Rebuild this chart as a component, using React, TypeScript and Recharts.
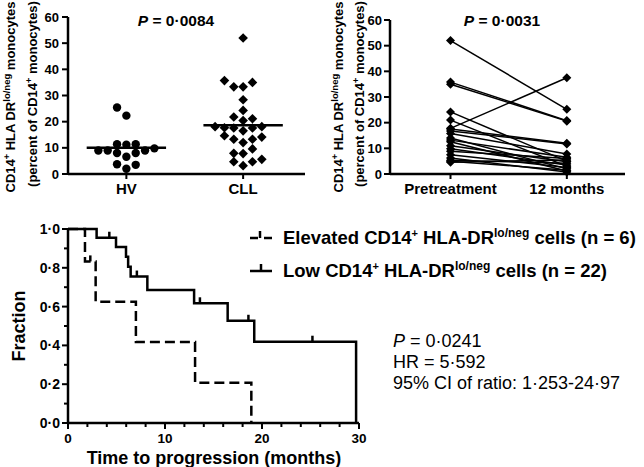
import React from 'react';
import { ScatterChart, Scatter, LineChart, Line, XAxis, YAxis, ReferenceLine } from 'recharts';

const FONT = '"Liberation Sans", Arial, Helvetica, sans-serif';

// Panel A: HV vs CLL, one dot per subject (slot = beeswarm column)
const groups = ['HV', 'CLL'];
const hvValues = [25.4, 22.3, 11.4, 11.2, 11.4, 9.0, 9.0, 9.0, 9.8, 8.0, 8.0, 6.6, 3.7, 3.5, 2.0];
const hvSlots = [-1, 0, -1, 0, 1, -3, -2, 2, 3, -1, 1, 0, -1, 1, 0];
const cllValues = [52.0, 35.7, 33.3, 33.3, 35.0, 28.4, 24.3, 21.8, 20.4, 21.1, 18.1, 17.7, 17.6, 16.5, 17.6, 18.1, 14.6, 13.3, 12.0, 13.3, 14.1, 9.6, 7.9, 7.8, 4.7, 5.6, 4.7, 3.2];
const cllSlots = [0, -2, -1, 0, 1, 0, 0, -1, 0, 1, -3, -2, -1, 0, 1, 2, -2, -1, 0, 1, 2, 1, -1, 0, 1, 2, -1, 0];
const pctTicks = [0, 10, 20, 30, 40, 50, 60];

// Panel B: paired samples
const timepoints = ['Pretreatment', '12 months'];
const pretreatment = [52.0, 35.8, 35.0, 17.8, 24.2, 21.0, 17.5, 16.8, 15.8, 14.0, 13.2, 12.6, 11.0, 9.8, 8.9, 7.5, 6.2, 5.4, 5.0, 4.6];
const month12 = [25.2, 20.8, 20.6, 37.5, 5.0, 3.0, 12.0, 11.7, 7.8, 2.0, 6.5, 1.2, 4.8, 3.5, 6.0, 2.5, 0.8, 4.2, 1.5, 5.5];

// Panel C: Kaplan-Meier (c = censored)
const elevatedTime = [0, 1.75, 2.3, 2.85, 7.0, 13.1, 18.9];
const elevatedFrac = [1, 0.833, 0.833, 0.625, 0.417, 0.208, 0];
const elevatedCensor = [0, 0, 1, 0, 0, 0, 0];
const lowTime = [0, 2.95, 4.26, 4.95, 5.98, 6.2, 6.46, 7.1, 8.18, 13.0, 13.6, 16.46, 18.6, 19.2, 25.2, 29.7];
const lowFrac = [1, 0.955, 0.955, 0.907, 0.857, 0.806, 0.755, 0.755, 0.686, 0.617, 0.617, 0.527, 0.527, 0.419, 0.419, 0];
const lowCensor = [0, 0, 1, 0, 0, 0, 0, 1, 0, 0, 1, 0, 1, 0, 1, 0];
const fracTicks = [0, 0.1, 0.2, 0.3, 0.4, 0.5, 0.6, 0.7, 0.8, 0.9, 1.0];
const monthTicks = [0, 2, 4, 6, 8, 10, 12, 14, 16, 18, 20, 22, 24, 26, 28, 30];

const SLOT = 0.08;
const mean = (a: number[]) => a.reduce((s, v) => s + v, 0) / a.length;
const hvPoints = hvValues.map((y, i) => ({ x: 1 + hvSlots[i] * SLOT, y }));
const cllPoints = cllValues.map((y, i) => ({ x: 2 + cllSlots[i] * SLOT, y }));
const pairRows = [pretreatment, month12].map((vals, t) => {
  const row: Record<string, number> = { x: t + 1 };
  vals.forEach((v, i) => { row[`p${i}`] = v; });
  return row;
});
const elevatedData = elevatedTime.map((t, i) => ({ t, s: elevatedFrac[i], c: elevatedCensor[i] }));
const lowData = lowTime.map((t, i) => ({ t, s: lowFrac[i], c: lowCensor[i] }));

const dotFmt = (v: number) => v.toFixed(1).replace('.', '·');
const axisLine = { stroke: '#000', strokeWidth: 2.5 };
const tickLine = { stroke: '#000', strokeWidth: 2 };
const tickFont = { fill: '#000', fontSize: 13, fontWeight: 700, fontFamily: FONT };
const catFont = { fill: '#000', fontSize: 15, fontWeight: 700, fontFamily: FONT };

const circle = (p: any) => <circle cx={p.cx} cy={p.cy} r={4.2} fill="#000" />;
const diamond = (p: any) => {
  const r = 4.8;
  return <path d={`M${p.cx},${p.cy - r}L${p.cx + r},${p.cy}L${p.cx},${p.cy + r}L${p.cx - r},${p.cy}Z`} fill="#000" />;
};
const pairDot = (p: any) => {
  const r = 4.5;
  return <path key={p.key ?? p.index} d={`M${p.cx},${p.cy - r}L${p.cx + r},${p.cy}L${p.cx},${p.cy + r}L${p.cx - r},${p.cy}Z`} fill="#000" />;
};
const censorDot = (p: any) =>
  p.payload && p.payload.c
    ? <line key={p.index} x1={p.cx} x2={p.cx} y1={p.cy} y2={p.cy - 6} stroke="#000" strokeWidth={2.5} />
    : <g key={p.index} />;

const FracTick = (p: any) => {
  const v = p.payload.value;
  const major = Math.round(v * 10) % 2 === 0;
  return (
    <g>
      <line x1={p.x} x2={p.x - (major ? 6 : 4)} y1={p.y} y2={p.y} stroke="#000" strokeWidth={2} />
      {major && (
        <text x={p.x - 8} y={p.y} dy="0.36em" textAnchor="end" fontSize={14} fontWeight={700} fontFamily={FONT} fill="#000">
          {dotFmt(v)}
        </text>
      )}
    </g>
  );
};
const MonthTick = (p: any) => {
  const v = p.payload.value;
  const major = v % 10 === 0;
  return (
    <g>
      <line x1={p.x} x2={p.x} y1={p.y} y2={p.y + (major ? 6 : 4)} stroke="#000" strokeWidth={2} />
      {major && (
        <text x={p.x} y={p.y + 20} textAnchor="middle" fontSize={13.5} fontWeight={700} fontFamily={FONT} fill="#000">
          {v}
        </text>
      )}
    </g>
  );
};

function YTitle({ x1, x2, cy }: { x1: number; x2: number; cy: number }) {
  return (
    <g fontWeight={700} fontSize={13} fill="#000">
      <text transform={`translate(${x1},${cy + 1}) rotate(-90)`} textAnchor="middle">
        CD14<tspan dy={-5} fontSize={9}>+</tspan><tspan dy={5}> HLA DR</tspan>
        <tspan dy={-5} fontSize={9.5}>lo/neg</tspan><tspan dy={5}> monocytes</tspan>
      </text>
      <text transform={`translate(${x2},${cy - 2}) rotate(-90)`} textAnchor="middle">
        (percent of CD14<tspan dy={-5} fontSize={9}>+</tspan><tspan dy={5}> monocytes)</tspan>
      </text>
    </g>
  );
}

export default function App() {
  return (
    <div style={{ position: 'absolute', left: 0, top: 0, width: 644, height: 467, background: '#fff', fontFamily: FONT, overflow: 'hidden' }}>
      {/* HV vs CLL */}
      <div style={{ position: 'absolute', left: 0, top: 0 }}>
        <ScatterChart width={320} height={200} margin={{ top: 17, right: 15, bottom: 0, left: 0 }}>
          <XAxis type="number" dataKey="x" domain={[0.5, 2.53]} ticks={[1, 2]} tickFormatter={(v: number) => groups[Math.round(v) - 1]}
            axisLine={axisLine} tickLine={tickLine} tickSize={5} tickMargin={4} tick={catFont} height={26} interval={0} />
          <YAxis type="number" dataKey="y" domain={[0, 60]} ticks={pctTicks} width={68} interval={0}
            axisLine={axisLine} tickLine={tickLine} tickSize={6} tickMargin={3} tick={tickFont} />
          <Scatter data={hvPoints} shape={circle} isAnimationActive={false} />
          <Scatter data={cllPoints} shape={diamond} isAnimationActive={false} />
          <ReferenceLine segment={[{ x: 1 - 0.34, y: mean(hvValues) }, { x: 1 + 0.34, y: mean(hvValues) }]} stroke="#000" strokeWidth={2.5} />
          <ReferenceLine segment={[{ x: 2 - 0.34, y: mean(cllValues) }, { x: 2 + 0.34, y: mean(cllValues) }]} stroke="#000" strokeWidth={2.5} />
        </ScatterChart>
      </div>

      {/* Pretreatment vs 12 months */}
      <div style={{ position: 'absolute', left: 320, top: 0 }}>
        <LineChart width={324} height={200} data={pairRows} margin={{ top: 20, right: 19, bottom: 0, left: 0 }}>
          <XAxis type="number" dataKey="x" domain={[0.48, 2.5]} ticks={[1, 2]} tickFormatter={(v: number) => timepoints[Math.round(v) - 1]}
            axisLine={axisLine} tickLine={tickLine} tickSize={5} tickMargin={4} tick={catFont} height={26} interval={0} />
          <YAxis type="number" domain={[0, 60]} ticks={pctTicks} width={70} interval={0}
            axisLine={axisLine} tickLine={tickLine} tickSize={6} tickMargin={2} tick={tickFont} />
          {pretreatment.map((_, i) => (
            <Line key={i} dataKey={`p${i}`} stroke="#000" strokeWidth={1.5} dot={pairDot} activeDot={false} isAnimationActive={false} />
          ))}
        </LineChart>
      </div>

      {/* Kaplan-Meier */}
      <div style={{ position: 'absolute', left: 0, top: 200 }}>
        <LineChart width={380} height={267} margin={{ top: 29, right: 21, bottom: 0, left: 0 }}>
          <XAxis type="number" dataKey="t" domain={[0, 30]} ticks={monthTicks} interval={0} height={44}
            axisLine={axisLine} tickLine={false} tickSize={0} tickMargin={0} tick={<MonthTick />} />
          <YAxis type="number" domain={[0, 1]} ticks={fracTicks} interval={0} width={68}
            axisLine={axisLine} tickLine={false} tickSize={0} tickMargin={0} tick={<FracTick />} />
          <Line data={elevatedData} dataKey="s" type="stepAfter" stroke="#000" strokeWidth={2.5} strokeDasharray="10 5"
            dot={censorDot} activeDot={false} isAnimationActive={false} />
          <Line data={lowData} dataKey="s" type="stepAfter" stroke="#000" strokeWidth={2.5}
            dot={censorDot} activeDot={false} isAnimationActive={false} />
        </LineChart>
      </div>

      {/* titles, axis titles, legend, stats */}
      <svg width={644} height={467} style={{ position: 'absolute', left: 0, top: 0, pointerEvents: 'none' }} fontFamily={FONT}>
        <text x={176} y={26} textAnchor="middle" fontSize={15.5} fontWeight={700}>
          <tspan fontStyle="italic">P</tspan> = 0·0084
        </text>
        <text x={502} y={26} textAnchor="middle" fontSize={15.5} fontWeight={700}>
          <tspan fontStyle="italic">P</tspan> = 0·0031
        </text>
        <YTitle x1={15} x2={37} cy={96} />
        <YTitle x1={343} x2={364} cy={96} />

        <text transform="translate(25,326) rotate(-90)" textAnchor="middle" fontSize={18} fontWeight={700}>Fraction</text>
        <text x={214} y={463.5} textAnchor="middle" fontSize={18} fontWeight={700}>Time to progression (months)</text>

        <g stroke="#000" strokeWidth={2.5}>
          <line x1={250} x2={258} y1={238} y2={238} />
          <line x1={260} x2={260} y1={231} y2={238} />
          <line x1={264} x2={272} y1={238} y2={238} />
          <line x1={250} x2={272} y1={271} y2={271} />
          <line x1={261} x2={261} y1={264} y2={271} />
        </g>
        <g fontSize={18.5} fontWeight={700} fill="#000">
          <text x={283} y={244}>
            Elevated CD14<tspan dy={-7} fontSize={11}>+</tspan><tspan dy={7}> HLA-DR</tspan>
            <tspan dy={-7} fontSize={12}>lo/neg</tspan><tspan dy={7}> cells (n = 6)</tspan>
          </text>
          <text x={283} y={277}>
            Low CD14<tspan dy={-7} fontSize={11}>+</tspan><tspan dy={7}> HLA-DR</tspan>
            <tspan dy={-7} fontSize={12}>lo/neg</tspan><tspan dy={7}> cells (n = 22)</tspan>
          </text>
        </g>
        <g fontSize={18} fill="#000">
          <text x={393} y={347}><tspan fontStyle="italic">P</tspan> = 0·0241</text>
          <text x={393} y={368}>HR = 5·592</text>
          <text x={393} y={389}>95% CI of ratio: 1·253-24·97</text>
        </g>
      </svg>
    </div>
  );
}
